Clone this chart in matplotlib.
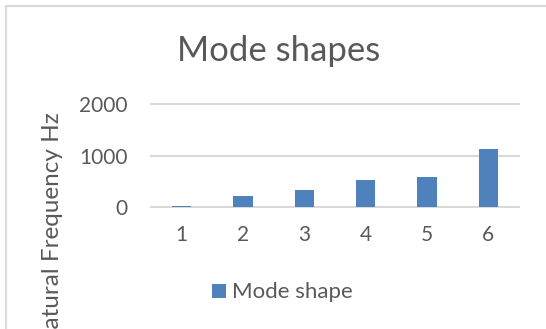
import matplotlib
matplotlib.use("Agg")
import matplotlib.pyplot as plt
from matplotlib.lines import Line2D

# natural frequency of each mode (Hz)
modes = ["1", "2", "3", "4", "5", "6"]
freq_hz = [30, 210, 336, 524, 583, 1132]
y_ticks = [0, 1000, 2000]

BAR_COLOR = "#4F81BD"
TEXT_COLOR = "#595959"
GRID_COLOR = "#D9D9D9"

plt.rcParams["font.family"] = ["Lato", "DejaVu Sans"]

W, H = 546, 329
fig = plt.figure(figsize=(W / 100, H / 100), dpi=100)
fig.patch.set_facecolor("white")

# plot area in pixel terms
left, right, top, bottom = 151, 519, 104.3, 207.3
ax = fig.add_axes([left / W, 1 - bottom / H, (right - left) / W, (bottom - top) / H])

x = list(range(len(modes)))
ax.bar(x, freq_hz, width=0.31, color=BAR_COLOR, label="Mode shape", zorder=3)

ax.set_xlim(-0.5, len(modes) - 0.5)
ax.set_ylim(0, 2000)
ax.set_xticks(x)
ax.set_xticklabels(modes)
ax.set_yticks(y_ticks)
ax.set_yticklabels([str(v) for v in y_ticks])

ax.grid(axis="y", color=GRID_COLOR, linewidth=1.5, zorder=0)
for g in ax.get_ygridlines():
    g.set_clip_on(False)
for s in ax.spines.values():
    s.set_visible(False)
ax.tick_params(axis="both", length=0, labelsize=15, labelcolor=TEXT_COLOR)
ax.tick_params(axis="y", pad=17)
ax.tick_params(axis="x", pad=13)

fig.text(278.5 / W, 1 - 61 / H, "Mode shapes", ha="center", va="baseline",
         fontsize=25, color=TEXT_COLOR)

fig.text(53 / W, 1 - 112 / H, "Natural Frequency Hz", rotation=90,
         ha="center", va="top", fontsize=17.5, color=TEXT_COLOR)

fig.legend(loc="center left", bbox_to_anchor=(212 / W, 1 - 292.5 / H),
           frameon=False, fontsize=16, labelcolor=TEXT_COLOR,
           handlelength=0.61, handleheight=0.61, handletextpad=0.27,
           borderpad=0, borderaxespad=0)

# chart border, only the top and left edges fall inside the image
fig.add_artist(Line2D([5.5 / W, 1], [1 - 6 / H, 1 - 6 / H], color=GRID_COLOR, linewidth=1.5))
fig.add_artist(Line2D([5.5 / W, 5.5 / W], [0, 1 - 6 / H], color=GRID_COLOR, linewidth=1.5))

fig.savefig("out.png", dpi=100)
